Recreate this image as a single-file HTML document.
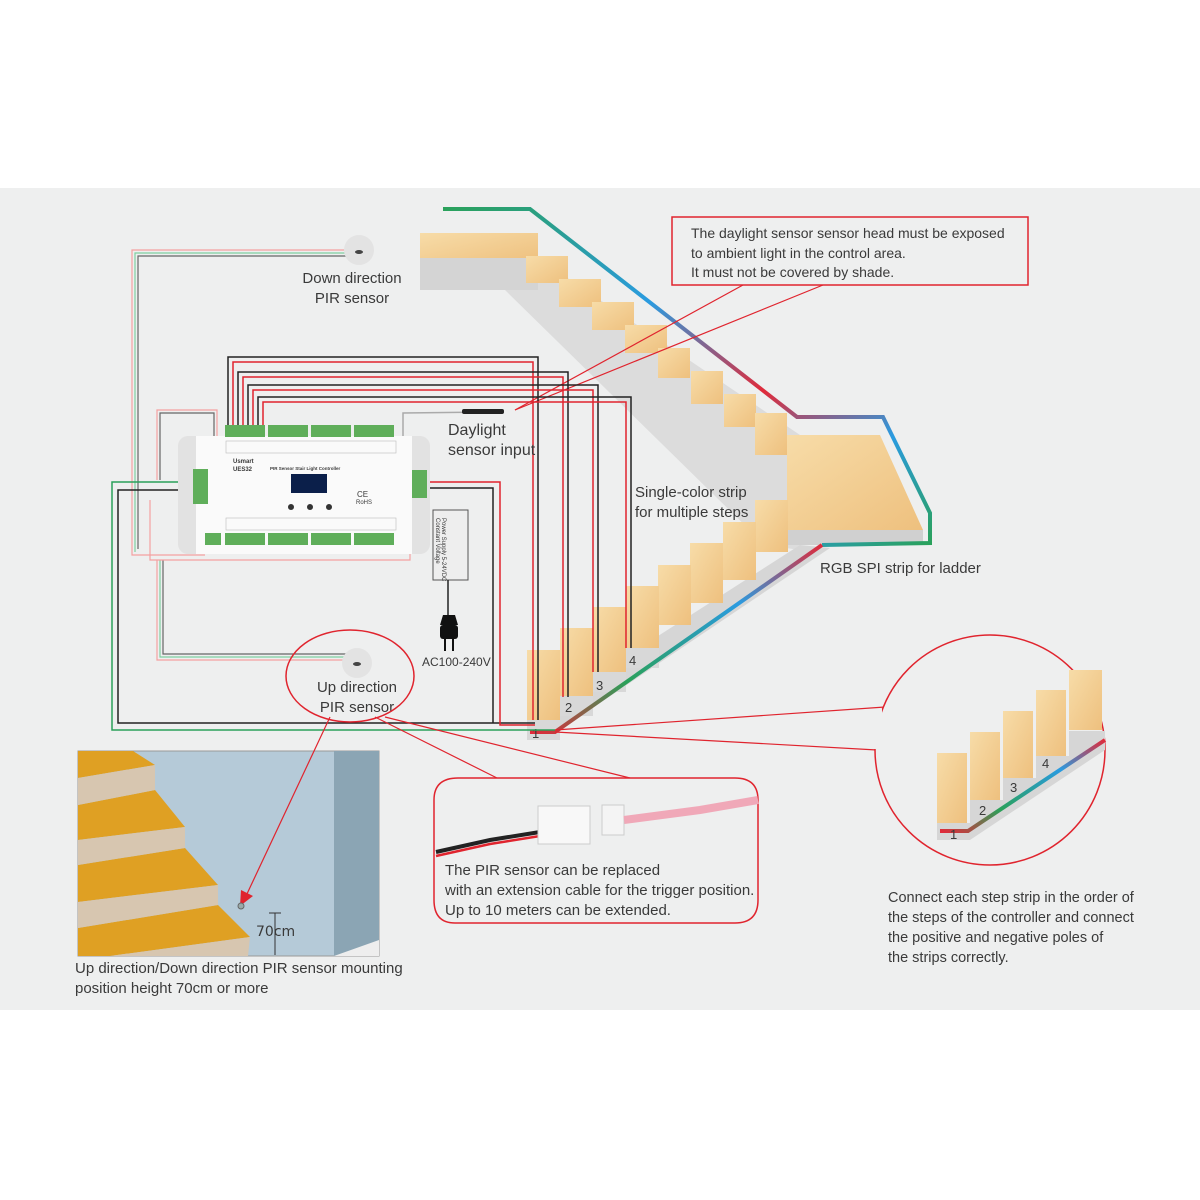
<!DOCTYPE html>
<html><head><meta charset="utf-8"><style>
html,body{margin:0;padding:0;background:#fff}
svg{display:block}
text{font-family:"Liberation Sans",sans-serif;fill:#3a3a3a}
</style></head><body>
<svg width="1200" height="1200" viewBox="0 0 1200 1200" xmlns="http://www.w3.org/2000/svg">
<defs>
<linearGradient id="rgb1" x1="0" y1="0" x2="1" y2="1">
<stop offset="0" stop-color="#2aa15a"/><stop offset="0.35" stop-color="#2a9be0"/><stop offset="0.6" stop-color="#e02a3a"/><stop offset="0.8" stop-color="#2a9be0"/><stop offset="1" stop-color="#2aa15a"/></linearGradient>
<linearGradient id="rgb2" x1="1" y1="0" x2="0" y2="1">
<stop offset="0" stop-color="#e02a3a"/><stop offset="0.3" stop-color="#2a9be0"/><stop offset="0.7" stop-color="#2aa15a"/><stop offset="1" stop-color="#e02a3a"/></linearGradient>
<linearGradient id="wood" x1="0" y1="0" x2="1" y2="1"><stop offset="0" stop-color="#f7dca8"/><stop offset="1" stop-color="#eec07e"/></linearGradient>
</defs>
<rect x="0" y="188" width="1200" height="822" fill="#eeefef"/>

<polygon points="420,258 538,258 800,435 800,550 765,545 505,290 420,290" fill="#dcdcdc"/>
<polygon points="420,233 538,233 538,258 420,262" fill="url(#wood)"/>
<rect x="420" y="258" width="118" height="32" fill="#d4d4d4"/>
<g fill="url(#wood)">
<rect x="526" y="256" width="42" height="27"/><rect x="559" y="279" width="42" height="28"/>
<rect x="592" y="302" width="42" height="28"/><rect x="625" y="325" width="42" height="28"/>
<rect x="658" y="348" width="32" height="30"/><rect x="691" y="371" width="32" height="33"/>
<rect x="724" y="394" width="32" height="33"/><rect x="755" y="413" width="32" height="42"/>
</g>
<polygon points="787,435 880,435 923,530 787,530" fill="url(#wood)"/>
<polygon points="787,530 923,530 923,545 787,545" fill="#d0d0d0"/>
<polygon points="527,720 545,740 830,548 800,545" fill="#d6d6d6"/>
<g fill="url(#wood)">
<rect x="755" y="500" width="33" height="52"/><rect x="723" y="522" width="33" height="58"/>
<rect x="690" y="543" width="33" height="60"/><rect x="658" y="565" width="33" height="60"/>
<rect x="626" y="586" width="33" height="62"/><rect x="593" y="607" width="33" height="65"/>
<rect x="560" y="628" width="33" height="68"/><rect x="527" y="650" width="33" height="70"/>
</g>
<g fill="#d8d8d8"><rect x="560" y="696" width="33" height="20"/><rect x="593" y="672" width="33" height="20"/><rect x="626" y="648" width="33" height="20"/><rect x="527" y="720" width="33" height="20"/></g>
<polyline points="443,209 530,209 797,417 883,417 930,513 930,543 822,545" fill="none" stroke="url(#rgb1)" stroke-width="4"/>
<polyline points="822,545 555,732 530,732" fill="none" stroke="url(#rgb2)" stroke-width="4"/>
<g font-size="13" style="font-family:'DejaVu Sans',sans-serif" fill="#222"><text x="532" y="738">1</text><text x="565" y="712">2</text><text x="596" y="690">3</text><text x="629" y="665">4</text></g>

<rect x="672" y="217" width="356" height="68" fill="none" stroke="#e0242e" stroke-width="1.5"/>
<text x="691" y="238" font-size="14">The daylight sensor sensor head must be exposed</text>
<text x="691" y="258" font-size="14">to ambient light in the control area.</text>
<text x="691" y="277" font-size="14">It must not be covered by shade.</text>
<polyline points="743,285 515,410" stroke="#e0242e" fill="none" stroke-width="1.2"/>
<polyline points="823,285 515,410" stroke="#e0242e" fill="none" stroke-width="1.2"/>

<polyline points="355,250 132,250 132,555 205,555" fill="none" stroke="#f4a0a0" stroke-width="1.2"/>
<polyline points="355,253 135,253 135,552" fill="none" stroke="#7fcfa0" stroke-width="1.2"/>
<polyline points="355,256 138,256 138,549" fill="none" stroke="#666" stroke-width="1.2"/>
<polyline points="157,560 157,660 350,660" fill="none" stroke="#f4a0a0" stroke-width="1.2"/>
<polyline points="160,560 160,657 350,657" fill="none" stroke="#7fcfa0" stroke-width="1.2"/>
<polyline points="163,560 163,654 350,654" fill="none" stroke="#666" stroke-width="1.2"/>
<polyline points="157,480 157,410 217,410 217,440" fill="none" stroke="#f4a0a0" stroke-width="1.2"/>
<polyline points="160,480 160,413 214,413 214,440" fill="none" stroke="#666" stroke-width="1.2"/>
<polyline points="410,545 410,560 150,560 150,500" fill="none" stroke="#f4a0a0" stroke-width="1.2"/>
<polyline points="195,482 112,482 112,730 555,730" fill="none" stroke="#2aa15a" stroke-width="1.5"/>
<polyline points="195,490 118,490 118,723 535,723" fill="none" stroke="#222" stroke-width="1.5"/>
<polyline points="425,488 493,488 493,723" fill="none" stroke="#222" stroke-width="1.5"/>
<polyline points="425,482 500,482 500,725 535,725" fill="none" stroke="#e0242e" stroke-width="1.5"/>

<g fill="none" stroke-width="1.5">
<polyline points="228,440 228,357 538,357 538,720" stroke="#222"/>
<polyline points="233,440 233,362 533,362 533,720" stroke="#e0242e"/>
<polyline points="238,440 238,372 568,372 568,697" stroke="#222"/>
<polyline points="243,440 243,377 563,377 563,697" stroke="#e0242e"/>
<polyline points="248,440 248,385 598,385 598,672" stroke="#222"/>
<polyline points="253,440 253,390 593,390 593,672" stroke="#e0242e"/>
<polyline points="258,440 258,397 631,397 631,648" stroke="#222"/>
<polyline points="263,440 263,402 626,402 626,648" stroke="#e0242e"/>
<polyline points="403,440 403,413 490,412" stroke="#aaa"/>
</g>
<rect x="462" y="409" width="42" height="5" fill="#222" rx="2"/>
<text x="448" y="435" font-size="16">Daylight</text>
<text x="448" y="455" font-size="16">sensor input</text>

<rect x="178" y="436" width="252" height="118" rx="10" fill="#e2e2e2"/>
<rect x="196" y="436" width="216" height="118" fill="#fafafa"/>
<g fill="#5fae5a">
<rect x="225" y="425" width="40" height="12"/><rect x="268" y="425" width="40" height="12"/><rect x="311" y="425" width="40" height="12"/><rect x="354" y="425" width="40" height="12"/>
<rect x="205" y="533" width="16" height="12"/><rect x="225" y="533" width="40" height="12"/><rect x="268" y="533" width="40" height="12"/><rect x="311" y="533" width="40" height="12"/><rect x="354" y="533" width="40" height="12"/>
<rect x="193" y="469" width="15" height="35"/><rect x="412" y="470" width="15" height="28"/>
</g>
<rect x="226" y="441" width="170" height="12" fill="none" stroke="#bbb" stroke-width="0.6"/>
<rect x="226" y="518" width="170" height="12" fill="none" stroke="#bbb" stroke-width="0.6"/>
<text x="233" y="463" font-size="6" font-weight="bold">Usmart</text>
<text x="233" y="471" font-size="6" font-weight="bold">UES32</text>
<text x="270" y="470" font-size="4.5" font-weight="bold">PIR Sensor Stair Light Controller</text>
<rect x="291" y="474" width="36" height="19" fill="#0b1f4a"/>
<circle cx="291" cy="507" r="3" fill="#333"/><circle cx="310" cy="507" r="3" fill="#333"/><circle cx="329" cy="507" r="3" fill="#333"/>
<text x="357" y="497" font-size="8">CE</text><text x="356" y="504" font-size="6">RoHS</text>
<rect x="433" y="510" width="35" height="70" fill="#eee" stroke="#555"/>
<text transform="translate(442,518) rotate(90)" font-size="6">Power Supply 5-24VDC</text>
<text transform="translate(436,518) rotate(90)" font-size="6">Constant Voltage</text>
<polyline points="448,580 448,615" stroke="#222" stroke-width="1.5" fill="none"/>
<rect x="440" y="625" width="18" height="14" rx="3" fill="#111"/><polygon points="443,615 455,615 458,625 440,625" fill="#111"/>
<rect x="444" y="639" width="2" height="12" fill="#111"/><rect x="452" y="639" width="2" height="12" fill="#111"/>
<text x="422" y="666" font-size="12">AC100-240V</text>

<circle cx="359" cy="250" r="15" fill="#e3e3e3"/><ellipse cx="359" cy="252" rx="4" ry="2" fill="#444"/>
<text x="352" y="283" font-size="15" text-anchor="middle">Down direction</text>
<text x="352" y="303" font-size="15" text-anchor="middle">PIR sensor</text>
<circle cx="357" cy="663" r="15" fill="#e3e3e3"/><ellipse cx="357" cy="664" rx="4" ry="2" fill="#444"/>
<text x="357" y="692" font-size="15" text-anchor="middle">Up direction</text>
<text x="357" y="712" font-size="15" text-anchor="middle">PIR sensor</text>
<ellipse cx="350" cy="676" rx="64" ry="46" fill="none" stroke="#e0242e" stroke-width="1.5"/>
<polyline points="375,717 497,778" stroke="#e0242e" fill="none" stroke-width="1.2"/>
<polyline points="385,717 630,778" stroke="#e0242e" fill="none" stroke-width="1.2"/>

<text x="635" y="497" font-size="15">Single-color strip</text>
<text x="635" y="517" font-size="15">for multiple steps</text>
<text x="820" y="573" font-size="15">RGB SPI strip for ladder</text>

<rect x="78" y="751" width="301" height="205" fill="#b5cad8" stroke="#999"/>
<rect x="334" y="751" width="45" height="205" fill="#8ba5b4"/>
<polygon points="334,956 379,940 379,956" fill="#eee"/>
<g fill="#dfa023">
<polygon points="78,751 133,751 155,765 78,778"/>
<polygon points="78,805 155,790 185,827 78,840"/>
<polygon points="78,865 185,848 218,885 78,902"/>
<polygon points="78,928 218,905 250,937 110,956 78,956"/>
</g>
<g fill="#d7c6b0">
<polygon points="78,778 155,765 155,790 78,805"/>
<polygon points="78,840 185,827 185,848 78,865"/>
<polygon points="78,902 218,885 218,905 78,928"/>
<polygon points="110,956 250,937 248,956"/>
</g>
<line x1="330" y1="717" x2="246" y2="896" stroke="#e0242e" stroke-width="1.2"/>
<polygon points="240,906 241,890 253,896" fill="#e0242e"/>
<circle cx="241" cy="906" r="3" fill="#9aa" stroke="#666"/>
<line x1="275" y1="913" x2="275" y2="955" stroke="#333"/><line x1="269" y1="913" x2="281" y2="913" stroke="#333"/>
<text x="256" y="936" font-size="14" style="font-family:'DejaVu Sans',sans-serif" fill="#222">70cm</text>
<text x="75" y="973" font-size="15">Up direction/Down direction PIR sensor mounting</text>
<text x="75" y="993" font-size="15">position height 70cm or more</text>

<path d="M497,778 L630,778 L735,778 Q758,778 758,800 L758,900 Q758,923 735,923 L455,923 Q434,923 434,900 L434,800 Q434,778 458,778 Z" fill="none" stroke="#e0242e" stroke-width="1.5"/>
<polyline points="436,852 490,840 540,832" stroke="#222" stroke-width="4" fill="none"/>
<polyline points="436,856 490,844 540,836" stroke="#e0242e" stroke-width="2.5" fill="none"/>
<rect x="538" y="806" width="52" height="38" fill="#f8f8f8" stroke="#ccc"/>
<rect x="602" y="805" width="22" height="30" fill="#f4f4f4" stroke="#ccc"/>
<polyline points="624,820 700,810 758,800" stroke="#f0a8b8" stroke-width="8" fill="none"/>
<text x="445" y="875" font-size="15">The PIR sensor can be replaced</text>
<text x="445" y="895" font-size="15">with an extension cable for the trigger position.</text>
<text x="445" y="915" font-size="15">Up to 10 meters can be extended.</text>

<polyline points="555,730 885,707" stroke="#e0242e" fill="none" stroke-width="1.2"/>
<polyline points="555,732 877,750" stroke="#e0242e" fill="none" stroke-width="1.2"/>
<circle cx="990" cy="750" r="115" fill="#eeefef" stroke="#e0242e" stroke-width="1.5"/>
<rect x="872" y="709" width="10" height="40" fill="#eeefef"/>
<g fill="url(#wood)">
<rect x="937" y="753" width="30" height="70"/><rect x="970" y="732" width="30" height="68"/>
<rect x="1003" y="711" width="30" height="67"/><rect x="1036" y="690" width="30" height="66"/><rect x="1069" y="670" width="33" height="60"/>
</g>
<polygon points="937,823 970,823 970,800 1003,800 1003,778 1036,778 1036,756 1069,756 1069,731 1105,731 1105,750 970,840 937,840" fill="#d6d6d6"/>
<polyline points="940,831 968,831 1105,740" stroke="url(#rgb2)" stroke-width="4" fill="none"/>
<g font-size="13" style="font-family:'DejaVu Sans',sans-serif" fill="#222"><text x="950" y="839">1</text><text x="979" y="815">2</text><text x="1010" y="792">3</text><text x="1042" y="768">4</text></g>
<text x="888" y="902" font-size="14.5">Connect each step strip in the order of</text>
<text x="888" y="922" font-size="14.5">the steps of the controller and connect</text>
<text x="888" y="942" font-size="14.5">the positive and negative poles of</text>
<text x="888" y="962" font-size="14.5">the strips correctly.</text>
</svg>
</body></html>
